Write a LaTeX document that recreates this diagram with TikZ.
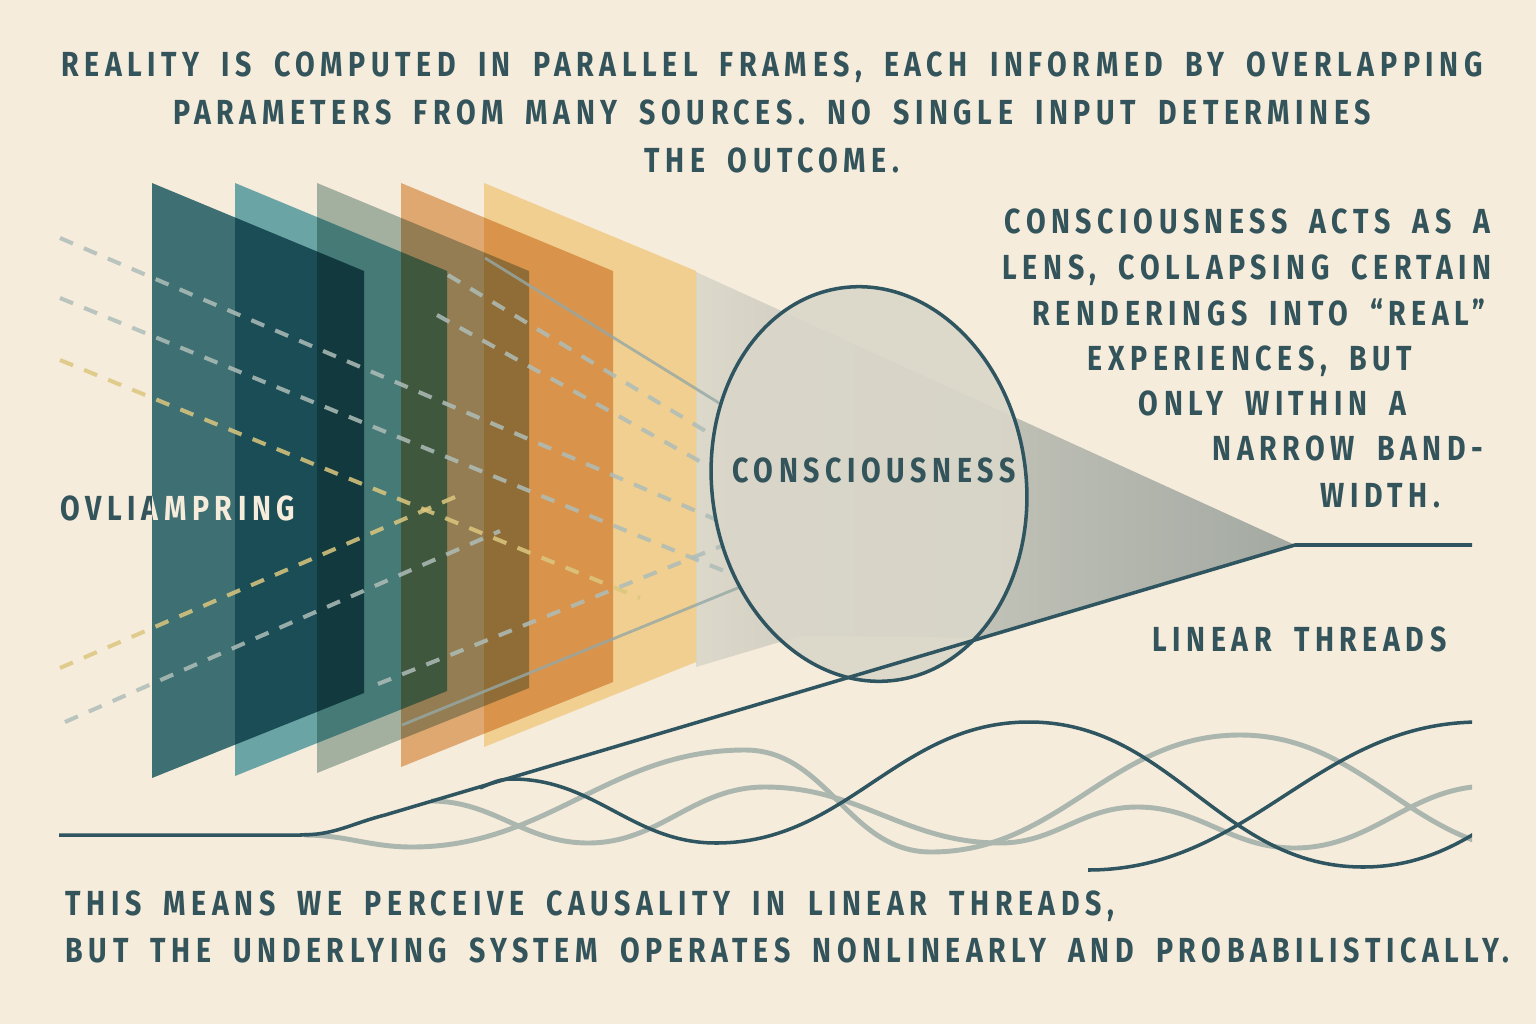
\documentclass[tikz,border=0pt]{standalone}
\usepackage{fontspec}
\setmainfont{Fira Sans}
\newfontfamily\capsfont{Fira Sans}[FakeStretch=0.82, LetterSpace=16, WordSpace=1.8]
\usepackage{xcolor}
\definecolor{Paper}{HTML}{F6ECDC}
\definecolor{InkTeal}{HTML}{34545C}
\definecolor{ThreadDark}{HTML}{2F5560}
\definecolor{ThreadGrey}{HTML}{AAB6AE}
\definecolor{RayGrey}{HTML}{AEBDB8}
\definecolor{RayGold}{HTML}{DCC77E}
\definecolor{FrameDeep}{HTML}{417886}
\definecolor{FrameTeal}{HTML}{6EB2BF}
\definecolor{FrameSage}{HTML}{A9BFBA}
\definecolor{FrameOrange}{HTML}{E8B684}
\definecolor{FrameSand}{HTML}{F9E0A8}
\definecolor{ConeLight}{HTML}{DCD8CA}
\definecolor{ConeDark}{HTML}{A3A9A2}
\definecolor{LensFill}{HTML}{DAD7CA}
\usepackage{tikz}

\tikzset{
  frame/.style={blend mode=multiply},
  ray/.style={draw=RayGrey, draw opacity=0.85, line width=1.15pt, dash pattern=on 4pt off 3.4pt},
  beam/.style={draw=RayGrey!80!ThreadDark, draw opacity=0.8, line width=0.8pt},
  thread/.style={draw=ThreadDark, line width=1pt},
  ghost/.style={draw=ThreadGrey, line width=1.4pt},
  caption/.style={text=InkTeal, font=\capsfont\bfseries\fontsize{9.9}{13.66}\selectfont, inner sep=0pt},
}

\begin{document}
\begin{tikzpicture}[x=0.01cm, y=-0.01cm]
  \useasboundingbox (0,0) rectangle (1536,1024);
  \fill[Paper] (0,0) rectangle (1536,1024);

  % --- cone towards the lens ---
  \shade[left color=ConeLight, right color=ConeDark]
    (696,272) -- (1295,545) -- (985,638) -- (800,636) -- (696,667) -- cycle;

  % --- parallel frames ---
  \foreach \lx/\by/\col in {152/778/FrameDeep, 235/776/FrameTeal, 317/773/FrameSage,
                            401/767/FrameOrange, 484/747/FrameSand}
    \fill[frame, fill=\col] (\lx,183) -- ++(212,88) -- (\lx+212,\by-85) -- (\lx,\by) -- cycle;

  % --- input rays ---
  \draw[ray] (60,238) -- (724,523);
  \draw[ray] (60,298) -- (729,573);
  \draw[ray, draw=RayGold] (60,360) -- (640,598);
  \draw[ray, draw=RayGold] (60,668) -- (455,497);
  \draw[ray] (65,722) -- (500,531);
  \draw[ray] (378,684) -- (729,543);
  \draw[ray] (448,275) -- (712,435);
  \draw[ray] (437,315) -- (710,467);
  \draw[beam] (485,258) -- (719,403);
  \draw[beam] (402,725) -- (745,585);

  % --- lens ---
  \fill[LensFill, fill opacity=0.9, rotate around={8:(869,484)}]
    (869,484) ellipse [x radius=157, y radius=198];
  \draw[ThreadDark, line width=1pt, rotate around={8:(869,484)}]
    (869,484) ellipse [x radius=157, y radius=198];

  % --- threads ---
  \begin{scope}
    \clip (0,0) rectangle (1472,1024);
    \draw[ghost] (304,835) to[out=0,in=180] (412,847) to[out=0,in=180] (745,750)
      to[out=0,in=180] (931,852) to[out=0,in=180] (1240,735) to[out=0,in=180] (1540,852);
    \draw[ghost] (431,801) to[out=0,in=180] (588,843) to[out=0,in=180] (765,787)
      to[out=0,in=180] (1000,843) to[out=0,in=180] (1137,807) to[out=0,in=180] (1294,848)
      to[out=0,in=180] (1490,786);
    \draw[thread] (59,835) -- (300,835) .. controls (335,835) and (350,824) .. (385,815)
      -- (1295,545) -- (1472,545);
    \draw[thread] (480,788) .. controls (494,782) and (500,779) .. (512,779)
      to[out=0,in=180] (716,843) to[out=0,in=180] (1029,722)
      to[out=0,in=180] (1363,867) to[out=0,in=180] (1697,722);
    \draw[thread] (1088,870) to[out=0,in=180] (1480,722);
  \end{scope}

  % --- texts ---
  \node[caption, anchor=north, align=center] (headline) at (772,51)
    {REALITY IS COMPUTED IN PARALLEL FRAMES, EACH INFORMED BY OVERLAPPING\\
     PARAMETERS FROM MANY SOURCES. NO SINGLE INPUT DETERMINES\\
     THE OUTCOME.};

  \foreach \n/\lx/\ly/\txt in {1/1004/233/{CONSCIOUSNESS ACTS AS A},
                               2/1002/279/{LENS, COLLAPSING CERTAIN},
                               3/1032/325/{RENDERINGS INTO “REAL”},
                               4/1087/370/{EXPERIENCES, BUT},
                               5/1138/415/{ONLY WITHIN A},
                               6/1212/460/{NARROW BAND-},
                               7/1320/507/{WIDTH.}}
    \node[caption, anchor=base west] (lens\n) at (\lx,\ly) {\txt};

  \node[caption, anchor=base] (lenslabel) at (874,482) {CONSCIOUSNESS};
  \node[caption, anchor=base west] (threads) at (1152,651) {LINEAR THREADS};

  \node[caption, anchor=base west] (ovl) at (60,520) {OVLIAMPRING};
  \begin{scope}
    \clip (152,470) rectangle (320,540);
    \node[caption, anchor=base west, text=Paper] (ovlhi) at (60,520) {OVLIAMPRING};
  \end{scope}

  \node[caption, anchor=base west] (moral1) at (65,915)
    {THIS MEANS WE PERCEIVE CAUSALITY IN LINEAR THREADS,};
  \node[caption, anchor=base west] (moral2) at (65,962)
    {BUT THE UNDERLYING SYSTEM OPERATES NONLINEARLY AND PROBABILISTICALLY.};
\end{tikzpicture}
\end{document}
